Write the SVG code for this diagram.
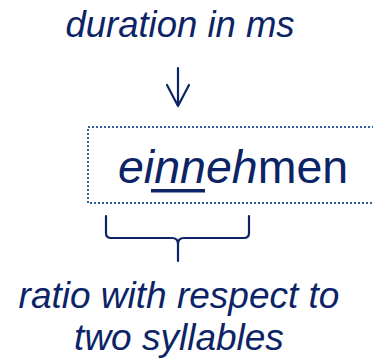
<svg xmlns="http://www.w3.org/2000/svg" width="373" height="362" viewBox="0 0 373 362">
<style>
.t{font-family:"Liberation Sans",Arial,sans-serif;fill:#0c2466}
.i{font-style:italic}
.ln{fill:none;stroke:#0c2466;stroke-width:2.2;stroke-linecap:round;stroke-linejoin:round}
</style>
<g id="duration">
<text class="t i" x="180" y="37" font-size="36.5" text-anchor="middle">duration in ms</text>
</g>
<g id="word">
<rect x="88" y="127" width="300" height="76" fill="none" stroke="#2f5f9f" stroke-width="2" stroke-dasharray="2,2"/>
<text class="t" x="118" y="183" font-size="46.5"><tspan class="i">einneh</tspan>men</text>
<rect x="151" y="189" width="54" height="3.5" fill="#0c2466"/>
</g>
<g id="ratio">
<text class="t i" x="179" y="308" font-size="37" text-anchor="middle">ratio with respect to</text>
<text class="t i" x="179" y="350" font-size="37" text-anchor="middle">two syllables</text>
</g>
<g id="connectors">
<path class="ln" d="M178 68 V106 M167 85 L178 106 L189 85"/>
<path class="ln" d="M106 216 V233 Q106 238 111 238 H172 Q178 238 178 244 V261 M178 244 Q178 238 184 238 H244 Q249 238 249 233 V216"/>
</g>
</svg>
